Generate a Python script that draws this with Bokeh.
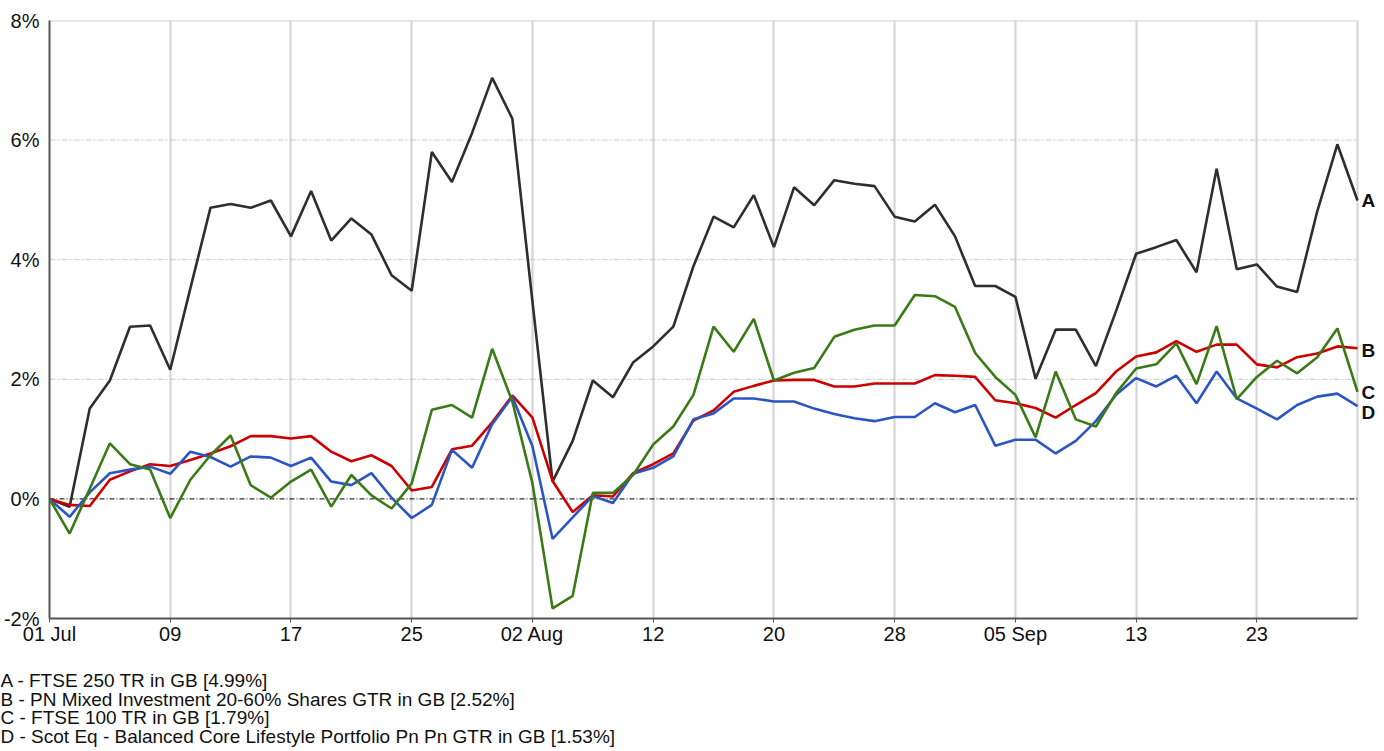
from bokeh.plotting import figure
from bokeh.layouts import column
from bokeh.models import Range1d, FixedTicker, PrintfTickFormatter
from bokeh.core.properties import value
from bokeh.embed import file_html
from bokeh.resources import INLINE

# ---- data (cumulative % return, business days 01 Jul - 30 Sep) ----
tick_labels = ["01 Jul", "09", "17", "25", "02 Aug", "12", "20", "28", "05 Sep", "13", "23"]
tick_step = 6  # business days between labels

series_A = [0, -0.13, 1.51, 1.98, 2.88, 2.90, 2.16, 3.52, 4.87, 4.93, 4.87, 4.99,
            4.39, 5.15, 4.32, 4.69, 4.42, 3.74, 3.48, 5.80, 5.30, 6.12, 7.04, 6.36,
            3.30, 0.29, 0.97, 1.98, 1.70, 2.28, 2.55, 2.88, 3.89, 4.72, 4.54, 5.08,
            4.21, 5.21, 4.91, 5.33, 5.27, 5.23, 4.72, 4.64, 4.92, 4.39, 3.56, 3.56,
            3.38, 2.01, 2.83, 2.83, 2.22, 3.14, 4.10, 4.21, 4.33, 3.79, 5.52, 3.84,
            3.92, 3.55, 3.46, 4.81, 5.93, 4.99]
series_B = [0, -0.10, -0.12, 0.32, 0.46, 0.58, 0.55, 0.65, 0.76, 0.88, 1.05, 1.05,
            1.01, 1.05, 0.79, 0.63, 0.73, 0.55, 0.14, 0.20, 0.83, 0.89, 1.28, 1.73,
            1.36, 0.30, -0.22, 0.06, 0.04, 0.43, 0.58, 0.76, 1.31, 1.48, 1.79, 1.89,
            1.98, 1.99, 1.99, 1.88, 1.88, 1.93, 1.93, 1.93, 2.07, 2.06, 2.04, 1.65,
            1.60, 1.52, 1.36, 1.57, 1.77, 2.13, 2.38, 2.45, 2.64, 2.46, 2.58, 2.58,
            2.25, 2.20, 2.37, 2.43, 2.55, 2.52]
series_C = [0, -0.58, 0.17, 0.93, 0.58, 0.49, -0.32, 0.32, 0.73, 1.06, 0.23, 0.02,
            0.29, 0.49, -0.13, 0.40, 0.06, -0.16, 0.26, 1.49, 1.57, 1.36, 2.51, 1.63,
            0.26, -1.83, -1.62, 0.10, 0.10, 0.40, 0.91, 1.21, 1.74, 2.88, 2.46, 3.01,
            1.98, 2.11, 2.19, 2.71, 2.83, 2.90, 2.90, 3.41, 3.39, 3.21, 2.44, 2.04,
            1.74, 1.03, 2.13, 1.33, 1.21, 1.77, 2.18, 2.25, 2.60, 1.92, 2.89, 1.67,
            2.04, 2.31, 2.10, 2.37, 2.85, 1.79]
series_D = [0, -0.30, 0.11, 0.43, 0.49, 0.54, 0.42, 0.79, 0.70, 0.54, 0.71, 0.69,
            0.55, 0.69, 0.29, 0.23, 0.43, 0.02, -0.32, -0.10, 0.82, 0.52, 1.25, 1.71,
            0.88, -0.67, -0.31, 0.05, -0.07, 0.42, 0.52, 0.71, 1.33, 1.43, 1.68, 1.68,
            1.63, 1.63, 1.51, 1.42, 1.35, 1.30, 1.37, 1.37, 1.60, 1.45, 1.57, 0.89,
            0.99, 0.99, 0.76, 0.97, 1.30, 1.74, 2.02, 1.88, 2.06, 1.60, 2.13, 1.68,
            1.51, 1.33, 1.57, 1.71, 1.76, 1.55]

letters = ["A", "B", "C", "D"]
legend_lines = [
    "A - FTSE 250 TR in GB [4.99%]",
    "B - PN Mixed Investment 20-60% Shares GTR in GB [2.52%]",
    "C - FTSE 100 TR in GB [1.79%]",
    "D - Scot Eq - Balanced Core Lifestyle Portfolio Pn Pn GTR in GB [1.53%]",
]
colors = ["#2e2e2e", "#cc0000", "#3b7a17", "#2b55c2"]
y_ticks = [-2, 0, 2, 4, 6, 8]

FONT = "Liberation Sans"

# ---- layout constants (pixels) ----
W, H = 1384, 751
LEFT, RIGHT_EDGE, TOP, BOTTOM = 49, 1357, 20, 618
AXIS_AREA = 30                  # room under the frame for the x tick labels
CHART_H = BOTTOM + AXIS_AREA
LEG_H = H - CHART_H
LEG_FIRST, LEG_STEP = 680 - CHART_H, 18.7   # legend line centres below chart

n = len(series_A)
last = n - 1
xs = list(range(n))
tick_pos = [i * tick_step for i in range(len(tick_labels))]

# frame runs to the canvas edge so that the end letters fit inside it
x_end = last * (W - LEFT) / (RIGHT_EDGE - LEFT)

p = figure(width=W, height=CHART_H, output_backend="svg", toolbar_location=None,
           x_range=Range1d(0, x_end), y_range=Range1d(y_ticks[0], y_ticks[-1]),
           min_border_left=LEFT, min_border_right=0, min_border_top=TOP,
           min_border_bottom=AXIS_AREA)
p.frame_align = False
p.background_fill_color = "white"
p.border_fill_color = "white"
p.outline_line_color = None

# axes
p.xaxis.ticker = FixedTicker(ticks=tick_pos)
p.xaxis.major_label_overrides = {t: l for t, l in zip(tick_pos, tick_labels)}
p.xaxis.bounds = (0, last)
p.yaxis.ticker = FixedTicker(ticks=y_ticks)
p.yaxis.formatter = PrintfTickFormatter(format="%d%%")
for ax in (p.xaxis, p.yaxis):
    ax.axis_line_color = "#555555"
    ax.axis_line_width = 2
    ax.major_label_text_font = FONT
    ax.major_label_text_font_size = "20px"
    ax.major_label_text_color = "#111111"
    ax.minor_tick_line_color = None
p.xaxis.major_tick_line_color = "#555555"
p.xaxis.major_tick_out = 4
p.xaxis.major_tick_in = 0
p.xaxis.major_label_standoff = 0
p.yaxis.major_tick_line_color = None
p.yaxis.major_tick_out = 0
p.yaxis.major_tick_in = 0
p.yaxis.major_label_standoff = 10

# grids
p.xgrid.ticker = FixedTicker(ticks=tick_pos)
p.xgrid.grid_line_color = "#d2d2d2"
p.xgrid.grid_line_width = 2
p.ygrid.grid_line_color = None

hgrid = [t for t in y_ticks if t not in (y_ticks[0], 0, y_ticks[-1])]
p.multi_line([[0, last]] * len(hgrid), [[t, t] for t in hgrid],
             line_color="#c8c8c8", line_width=1, line_dash="6 2 2 2")
# frame border on top and right (light)
p.line([0, last], [y_ticks[-1], y_ticks[-1]], line_color="#d2d2d2", line_width=2)
p.line([last, last], [y_ticks[0], y_ticks[-1]], line_color="#d2d2d2", line_width=2)
# zero line
p.line([0, last], [0, 0], line_color="black", line_width=1, line_dash="5 2 1 2")

all_series = [series_A, series_B, series_C, series_D]
for idx in [0, 1, 3, 2]:
    p.line(xs, all_series[idx], line_color=colors[idx], line_width=2.6)

# end-of-line letters
p.text(x=[last] * 4, y=[s[-1] for s in all_series], text=letters,
       x_offset=4, y_offset=[0, 2, 1, 6],
       text_font=value(FONT), text_font_size="19px", text_font_style="bold",
       text_color="#111111", text_baseline="middle", text_align="left")

# ---- legend strip under the chart (pixel coordinates) ----
q = figure(width=W, height=LEG_H, output_backend="svg", toolbar_location=None,
           x_range=Range1d(0, W), y_range=Range1d(0, LEG_H),
           x_axis_type=None, y_axis_type=None,
           min_border=0, min_border_left=0, min_border_right=0,
           min_border_top=0, min_border_bottom=0)
q.frame_align = False
q.outline_line_color = None
q.background_fill_color = "white"
q.border_fill_color = "white"
q.grid.visible = False
q.text(x=[0] * len(legend_lines),
       y=[LEG_H - (LEG_FIRST + k * LEG_STEP) for k in range(len(legend_lines))],
       text=legend_lines, text_font=value(FONT), text_font_size="19px",
       text_color="#111111", text_baseline="middle", text_align="left")

layout = column(p, q, spacing=0)
open("out.html", "w").write(file_html(layout, INLINE))
